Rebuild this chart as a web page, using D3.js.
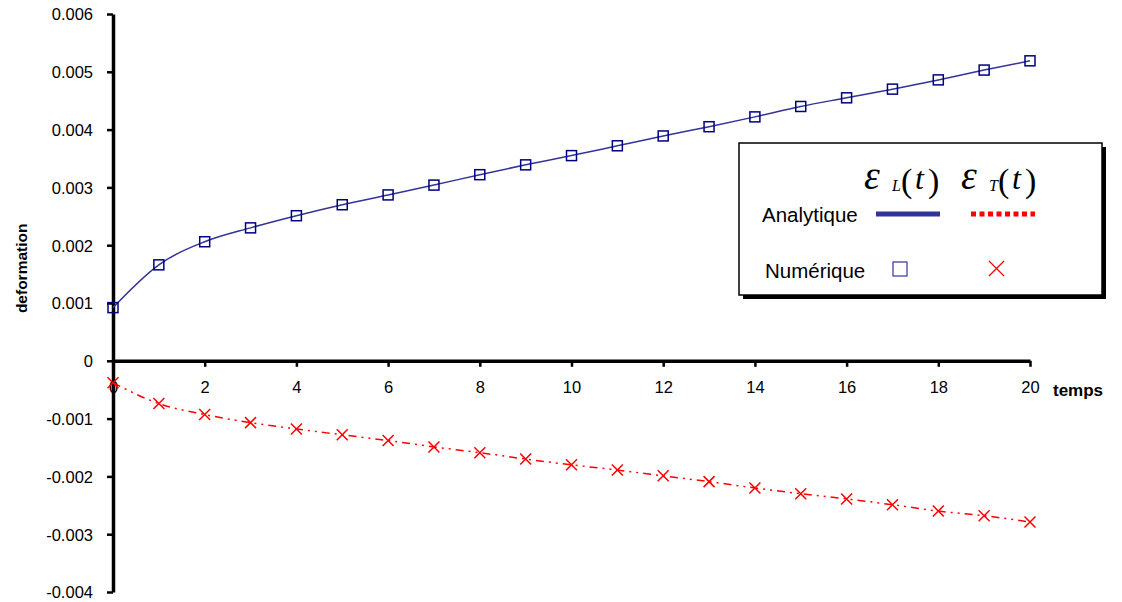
<!DOCTYPE html>
<html>
<head>
<meta charset="utf-8">
<script src="https://cdn.jsdelivr.net/npm/d3@7"></script>
<style>
    body { margin: 0; background: #fff; }
    text { font-family: "Liberation Sans", Arial, sans-serif; }
</style>
</head>
<body>
<div id="chart"></div>
<script>
// time values (x)
const temps = d3.range(0, 21);
// longitudinal strain epsilon_L(t)
const epsL = [0.00092, 0.00166, 0.00206, 0.0023, 0.00251, 0.0027, 0.00287, 0.00304, 0.00322, 0.00339,
    0.00355, 0.00372, 0.00389, 0.00405, 0.00422, 0.0044, 0.00455, 0.0047, 0.00486, 0.00503, 0.00519];
// transverse strain epsilon_T(t)
const epsT = [-0.00038, -0.00074, -0.00093, -0.00107, -0.00118, -0.00128, -0.00138, -0.00149, -0.00159, -0.0017,
    -0.0018, -0.00189, -0.00199, -0.00209, -0.0022, -0.0023, -0.00239, -0.00249, -0.0026, -0.00268, -0.00279];
const xTicks = [0, 2, 4, 6, 8, 10, 12, 14, 16, 18, 20];
const yTicks = [-0.004, -0.003, -0.002, -0.001, 0, 0.001, 0.002, 0.003, 0.004, 0.005, 0.006];

const width = 1122, height = 602;
const margin = {top: 14, right: 92, bottom: 10, left: 113};

const svg = d3.select('#chart').append('svg')
    .attr('width', width)
    .attr('height', height);

const xScale = d3.scaleLinear().domain([0, 20]).range([margin.left, width - margin.right]);
const yScale = d3.scaleLinear().domain([-0.004, 0.006]).range([height - margin.bottom, margin.top]);

const fmtY = d => d === 0 ? '0' : d3.format('.3f')(d).replace('\u2212', '-');

// y axis
const yAxisG = svg.append('g')
    .attr('transform', `translate(${margin.left},0)`)
    .call(d3.axisLeft(yScale).tickValues(yTicks).tickSize(6).tickSizeOuter(0).tickFormat(fmtY));
yAxisG.select('.domain').attr('stroke-width', 3.5).attr('stroke', '#000');
yAxisG.selectAll('.tick line').attr('stroke-width', 2.5).attr('stroke', '#000');
yAxisG.selectAll('.tick text').attr('font-size', 16.5).attr('x', -20).attr('dy', '0.36em').attr('fill', '#000')
    .style('font-family', '"Liberation Sans", Arial, sans-serif');

// x axis at y = 0
const xAxisG = svg.append('g')
    .attr('transform', `translate(0,${yScale(0)})`)
    .call(d3.axisBottom(xScale).tickValues(xTicks).tickSize(6).tickSizeOuter(0));
xAxisG.select('.domain').attr('stroke-width', 3.5).attr('stroke', '#000');
xAxisG.selectAll('.tick line').attr('stroke-width', 2.5).attr('stroke', '#000');
xAxisG.selectAll('.tick text').attr('font-size', 16.5).attr('y', 20).attr('fill', '#000')
    .style('font-family', '"Liberation Sans", Arial, sans-serif');

// axis titles
svg.append('text')
    .attr('transform', `translate(27,${yScale(0.0016)}) rotate(-90)`)
    .attr('text-anchor', 'middle')
    .attr('font-size', 15.5)
    .attr('font-weight', 'bold')
    .text('deformation');

svg.append('text')
    .attr('x', 1053)
    .attr('y', yScale(0) + 35)
    .attr('font-size', 17)
    .attr('font-weight', 'bold')
    .text('temps');

const line = d3.line()
    .x((d, i) => xScale(temps[i]))
    .y(d => yScale(d))
    .curve(d3.curveMonotoneX);

const blue = '#333399';
const red = '#ff0000';

// analytic curves
svg.append('path')
    .datum(epsL)
    .attr('d', line)
    .attr('fill', 'none')
    .attr('stroke', blue)
    .attr('stroke-width', 1.5);

svg.append('path')
    .datum(epsT)
    .attr('d', line)
    .attr('fill', 'none')
    .attr('stroke', red)
    .attr('stroke-width', 1.5)
    .attr('stroke-dasharray', '8,5,2,5,2,5');

// numeric markers
svg.append('g').selectAll('rect')
    .data(epsL)
    .join('rect')
    .attr('x', (d, i) => xScale(temps[i]) - 5)
    .attr('y', d => yScale(d) - 5)
    .attr('width', 10)
    .attr('height', 10)
    .attr('fill', 'none')
    .attr('stroke', '#000080')
    .attr('stroke-width', 1.5);

const cross = 5.5;
svg.append('g').selectAll('path')
    .data(epsT)
    .join('path')
    .attr('d', (d, i) => {
        const cx = xScale(temps[i]), cy = yScale(d);
        return `M${cx - cross},${cy - cross}L${cx + cross},${cy + cross}M${cx - cross},${cy + cross}L${cx + cross},${cy - cross}`;
    })
    .attr('fill', 'none')
    .attr('stroke', red)
    .attr('stroke-width', 1.5);

// legend box with shadow
const legend = svg.append('g');
legend.append('rect')
    .attr('x', 743).attr('y', 147)
    .attr('width', 363).attr('height', 152)
    .attr('fill', '#000');
legend.append('rect')
    .attr('x', 739).attr('y', 143)
    .attr('width', 363).attr('height', 152)
    .attr('fill', '#fff')
    .attr('stroke', '#000')
    .attr('stroke-width', 1.5);

// epsilon_X(t) labels, placed piece by piece like an equation
const serif = '"Liberation Serif", "Times New Roman", serif';
function epsLabel(x, sub) {
    const base = 189;
    const piece = (dx, txt, size, italic, dy) => legend.append('text')
        .attr('x', x + dx).attr('y', base + (dy || 0))
        .style('font-family', serif)
        .attr('font-size', size)
        .attr('font-style', italic ? 'italic' : 'normal')
        .text(txt);
    piece(-1, 'ε', 40, true);
    piece(27, sub, 16, true, 2);
    piece(36, '(', 34, false, 3);
    piece(50, 't', 32, true);
    piece(63, ')', 34, false, 3);
}
epsLabel(865, 'L');
epsLabel(962, 'T');

legend.append('text')
    .attr('x', 762).attr('y', 222)
    .attr('font-size', 20.5)
    .text('Analytique');
legend.append('line')
    .attr('x1', 876).attr('x2', 940)
    .attr('y1', 214).attr('y2', 214)
    .attr('stroke', blue)
    .attr('stroke-width', 5);
legend.append('line')
    .attr('x1', 971).attr('x2', 1035)
    .attr('y1', 214).attr('y2', 214)
    .attr('stroke', red)
    .attr('stroke-width', 5)
    .attr('stroke-dasharray', '5,3.5');

legend.append('text')
    .attr('x', 765).attr('y', 278)
    .attr('font-size', 20.5)
    .text('Numérique');
legend.append('rect')
    .attr('x', 893).attr('y', 262)
    .attr('width', 14).attr('height', 14)
    .attr('fill', 'none')
    .attr('stroke', blue)
    .attr('stroke-width', 1.2);
legend.append('path')
    .attr('d', 'M989,261L1004,276M989,276L1004,261')
    .attr('stroke', red)
    .attr('stroke-width', 1.3);
</script>
</body>
</html>
